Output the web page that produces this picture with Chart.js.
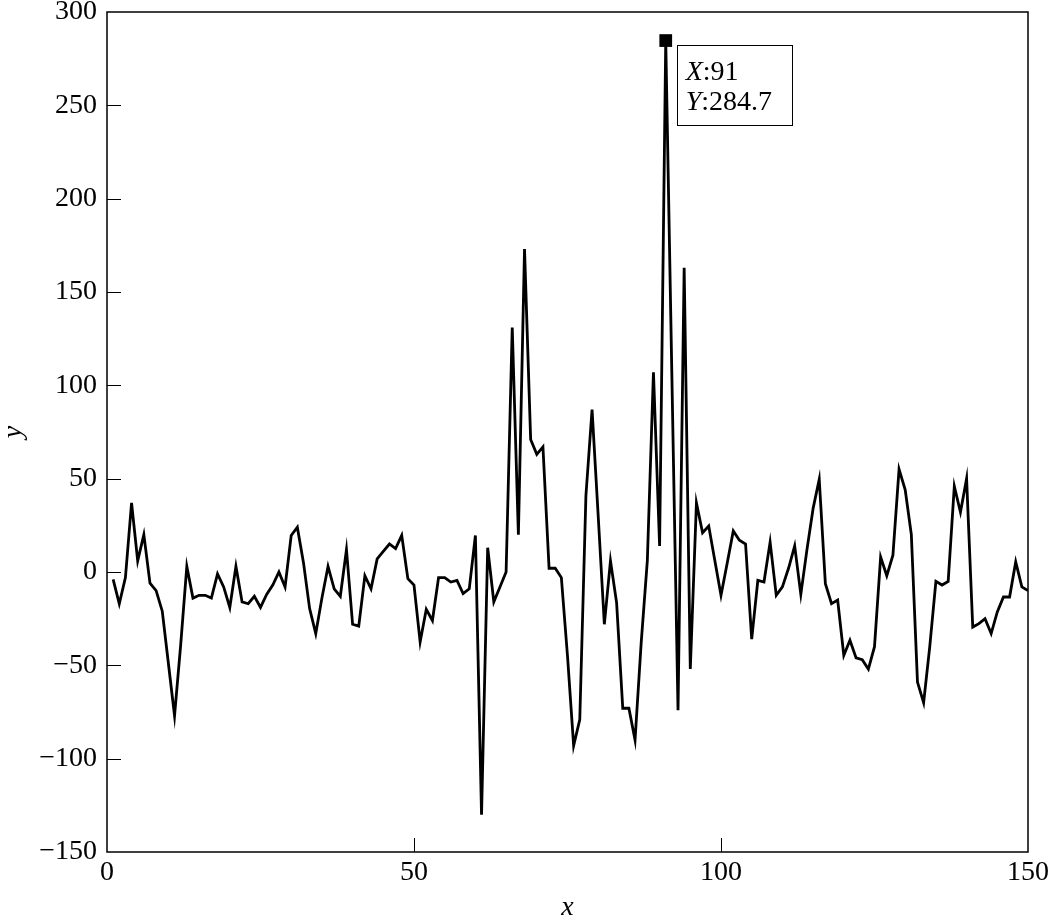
<!DOCTYPE html>
<html>
<head>
    <title>Signal</title>
    <script src="https://cdn.jsdelivr.net/npm/chart.js"></script>
    <style>
        html, body { margin: 0; padding: 0; background: #fff; }
        .chart-container { width: 1050px; height: 922px; position: relative; }
    </style>
</head>
<body>
    <div class="chart-container">
        <canvas id="signalChart"></canvas>
    </div>

    <script>
        // values, one per sample x = 1..150
        const yValues = [
            -4, -17, -3, 37, 6, 20, -6, -10, -21, -49,
            -77, -39, 3, -14, -12.5, -12.5, -14, -1, -8, -19,
            3, -16, -17, -13, -19, -12, -7, 0, -8, 19.6,
            24, 5, -19.6, -33, -14, 3, -9, -13, 12, -28,
            -29, -2, -9, 7, 11, 15, 12.5, 19.6, -3.6, -7,
            -37.5, -20, -26, -3, -3, -5.4, -4.5, -11.6, -9, 19.6,
            -130, 13, -16, -8, 0, 131, 20, 173, 71, 63,
            67, 2, 2, -3, -45, -93, -79, 41, 87, 30,
            -28, 6, -16.5, -73, -73, -90, -38, 6, 107, 14,
            284.7, 105, -74, 163, -52, 37, 21, 24.6, 6, -12.5,
            4.6, 22, 17, 15, -36, -4.5, -5.4, 16, -12.5, -8,
            2, 14, -12, 12, 34, 49.7, -6.3, -17, -15, -44.7,
            -36.6, -46, -47, -52, -40, 8, -2, 9, 55, 44,
            20, -59, -70, -40, -5, -7, -5, 46, 32, 50,
            -29.5, -27.7, -25, -33, -21.4, -13.4, -13.4, 5.4, -8, -10
        ];
        const xStart = 1;
        const xTicks = [0, 50, 100, 150];
        const yTicks = [-150, -100, -50, 0, 50, 100, 150, 200, 250, 300];
        const tipX = 91;
        const tipY = 284.7;

        const serif = "'Liberation Serif', 'DejaVu Serif', serif";
        const points = yValues.map((v, i) => ({ x: xStart + i, y: v }));

        // box around the plot and the short inward ticks on the left and bottom
        const frame = {
            id: 'frame',
            afterDatasetsDraw(chart) {
                const { ctx, chartArea: a, scales } = chart;
                ctx.save();
                ctx.strokeStyle = '#000';
                ctx.lineWidth = 1;
                yTicks.slice(1, -1).forEach(v => {
                    const p = Math.round(scales.y.getPixelForValue(v)) + 0.5;
                    ctx.beginPath();
                    ctx.moveTo(a.left, p);
                    ctx.lineTo(a.left + 14, p);
                    ctx.stroke();
                });
                xTicks.slice(1, -1).forEach(v => {
                    const p = Math.round(scales.x.getPixelForValue(v)) + 0.5;
                    ctx.beginPath();
                    ctx.moveTo(p, a.bottom);
                    ctx.lineTo(p, a.bottom - 14);
                    ctx.stroke();
                });
                ctx.lineWidth = 1.5;
                ctx.strokeRect(a.left, a.top, a.right - a.left, a.bottom - a.top);
                ctx.restore();
            }
        };

        // data tip box next to the marked peak
        const dataTip = {
            id: 'dataTip',
            afterDraw(chart) {
                const { ctx, scales } = chart;
                const px = scales.x.getPixelForValue(tipX);
                const py = scales.y.getPixelForValue(tipY);
                const left = px + 11, top = py + 4;
                ctx.save();
                ctx.fillStyle = '#fff';
                ctx.fillRect(left, top, 115, 80);
                ctx.strokeStyle = '#000';
                ctx.lineWidth = 1;
                ctx.strokeRect(Math.round(left) + 0.5, Math.round(top) + 0.5, 115, 80);
                ctx.fillStyle = '#000';
                ctx.textBaseline = 'alphabetic';
                const rows = [['X', ':' + tipX], ['Y', ':' + tipY]];
                rows.forEach((r, i) => {
                    const base = top + 35 + i * 30;
                    ctx.font = 'italic 28px ' + serif;
                    ctx.fillText(r[0], left + 9, base);
                    const w = ctx.measureText(r[0]).width;
                    ctx.font = '28px ' + serif;
                    ctx.fillText(r[1], left + 9 + w, base);
                });
                ctx.restore();
            }
        };

        const ctx = document.getElementById('signalChart').getContext('2d');
        const chart = new Chart(ctx, {
            type: 'line',
            data: {
                datasets: [{
                    data: points,
                    borderColor: '#000',
                    borderWidth: 2.8,
                    pointRadius: 0,
                    tension: 0,
                    fill: false,
                    order: 2
                }, {
                    data: [{ x: tipX, y: tipY }],
                    showLine: false,
                    pointStyle: 'rect',
                    pointRadius: 9,
                    backgroundColor: '#000',
                    borderColor: '#000',
                    borderWidth: 0,
                    order: 1
                }]
            },
            options: {
                responsive: true,
                maintainAspectRatio: false,
                animation: false,
                layout: { padding: { top: 12, right: 22, left: 0, bottom: 0 } },
                scales: {
                    x: {
                        type: 'linear',
                        min: 0,
                        max: 150,
                        afterFit: s => {
                            s.height = 70;
                            s.paddingLeft = 0;
                            s.paddingRight = 0;
                        },
                        afterBuildTicks: s => { s.ticks = xTicks.map(v => ({ value: v })); },
                        grid: { display: false, drawTicks: false },
                        border: { display: false },
                        ticks: {
                            color: '#000',
                            padding: 4,
                            maxRotation: 0,
                            font: { family: serif, size: 28 }
                        },
                        title: {
                            display: true,
                            text: 'x',
                            color: '#000',
                            padding: { top: 0, bottom: 0 },
                            font: { family: serif, size: 28, style: 'italic', lineHeight: 1 }
                        }
                    },
                    y: {
                        min: -150,
                        max: 300,
                        afterFit: s => {
                            s.width = 107;
                            s.paddingTop = 0;
                            s.paddingBottom = 0;
                        },
                        afterBuildTicks: s => { s.ticks = yTicks.map(v => ({ value: v })); },
                        grid: { display: false, drawTicks: false },
                        border: { display: false },
                        ticks: {
                            color: '#000',
                            padding: 10,
                            font: { family: serif, size: 28 },
                            callback: v => String(v).replace('-', '\u2212')
                        },
                        title: {
                            display: true,
                            text: 'y',
                            color: '#000',
                            padding: { top: 0, bottom: 0 },
                            font: { family: serif, size: 28, style: 'italic', lineHeight: 1 }
                        }
                    }
                },
                plugins: {
                    legend: { display: false },
                    tooltip: { enabled: false }
                }
            },
            plugins: [frame, dataTip]
        });
    </script>
</body>
</html>
